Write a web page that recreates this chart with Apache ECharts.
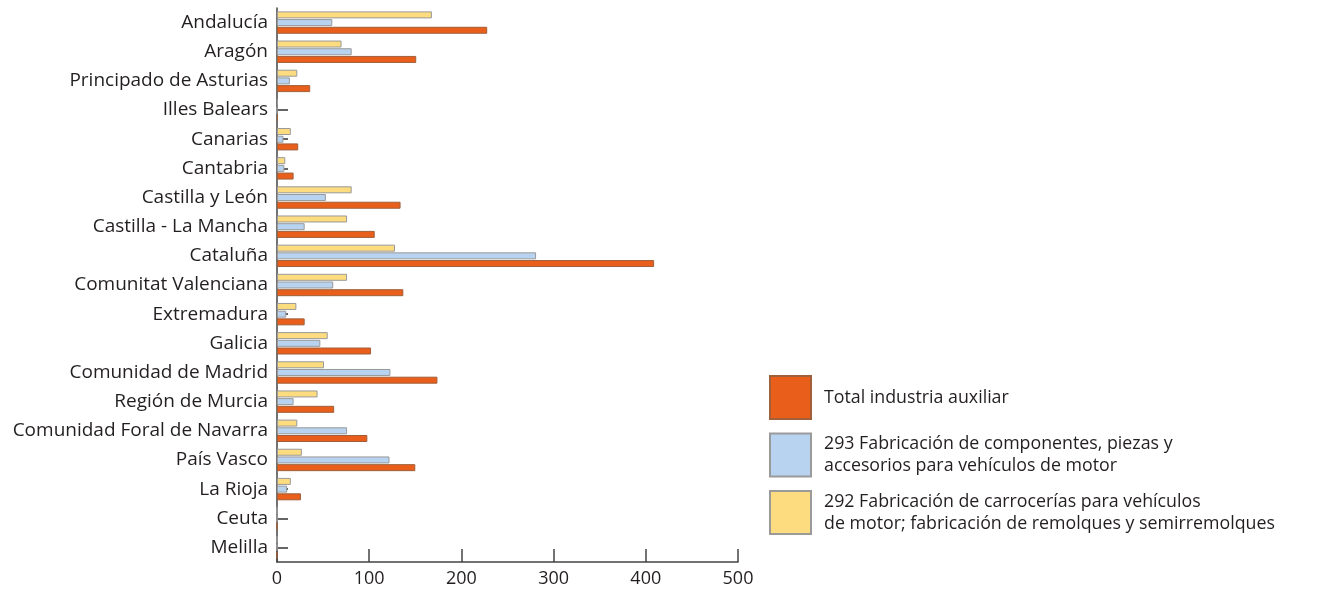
<!DOCTYPE html>
<html><head><meta charset="utf-8">
<script src="https://cdn.jsdelivr.net/npm/echarts@6/dist/echarts.min.js"></script>
<style>html,body{margin:0;padding:0;background:#fff;}#c{width:1332px;height:591px;}</style>
</head><body><div id="c"></div>
<script>
const categories = ["Andalucía","Aragón","Principado de Asturias","Illes Balears","Canarias","Cantabria","Castilla y León","Castilla - La Mancha","Cataluña","Comunitat Valenciana","Extremadura","Galicia","Comunidad de Madrid","Región de Murcia","Comunidad Foral de Navarra","País Vasco","La Rioja","Ceuta","Melilla"];
const totalAux = [228,151,36,1,23,18,134,106,409,137,30,102,174,62,98,150,26,0,0];
const comp293 = [60,81,14,0,7,8,53,30,281,61,10,47,123,18,76,122,11,0,0];
const carr292 = [168,70,22,1,15,9,81,76,128,76,21,55,51,44,22,27,15,0,0];
const xTicks = [0,100,200,300,400,500];
const nameTotal = "Total industria auxiliar";
const name293 = "293 Fabricación de componentes, piezas y\naccesorios para vehículos de motor";
const name292 = "292 Fabricación de carrocerías para vehículos\nde motor; fabricación de remolques y semirremolques";

const FONT = "Open Sans";
const chart = echarts.init(document.getElementById('c'), null, {renderer:'canvas'});
const border = '#9a9a9a';
chart.setOption({
  animation:false,
  textStyle:{fontFamily:FONT},
  grid:{left:277, right:594, top:8, bottom:29, containLabel:false},
  legend:{
    orient:'vertical', left:769, top:375, padding:0, itemWidth:41, itemHeight:43, itemGap:12.5,
    icon:'rect',
    data:[nameTotal,name293,name292],
    textStyle:{fontFamily:FONT, fontSize:17.8, lineHeight:22, color:'#231f20', padding:[0,0,0,8]}
  },
  xAxis:{
    type:'value', min:xTicks[0], max:xTicks[xTicks.length-1], interval:100,
    splitLine:{show:false},
    axisLine:{show:true, lineStyle:{color:'#444', width:1.5}},
    axisTick:{show:true, inside:true, length:13, lineStyle:{color:'#444', width:1.5}},
    axisLabel:{fontFamily:FONT, fontSize:18, color:'#231f20', margin:8}
  },
  yAxis:{
    type:'category', data:categories, inverse:true,
    axisLine:{show:true, lineStyle:{color:'#444', width:1.5}},
    axisTick:{show:true, inside:true, alignWithLabel:true, length:11, lineStyle:{color:'#333', width:1.5}},
    axisLabel:{fontFamily:FONT, fontSize:19, color:'#231f20', margin:9}
  },
  series:[
    {name:name292, type:'bar', data:carr292, barWidth:7, barGap:'10%',
     itemStyle:{color:'#FCDC7E', borderColor:border, borderWidth:1}},
    {name:name293, type:'bar', data:comp293, barWidth:7, barGap:'10%',
     itemStyle:{color:'#B7D3F0', borderColor:border, borderWidth:1}},
    {name:nameTotal, type:'bar', data:totalAux, barWidth:7, barGap:'10%',
     itemStyle:{color:'#E95E1B', borderColor:'#a0603a', borderWidth:1}}
  ]
});
</script></body></html>
